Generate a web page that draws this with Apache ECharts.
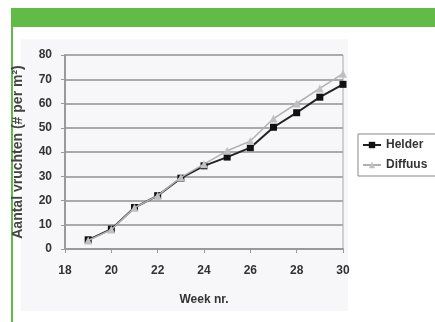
<!DOCTYPE html>
<html><head><meta charset="utf-8">
<script src="https://cdn.jsdelivr.net/npm/echarts@6/dist/echarts.min.js"></script>
<style>html,body{margin:0;padding:0;background:#fff}#c{width:435px;height:322px}</style>
</head><body><div id="c"></div>
<script>
var weeks = [19,20,21,22,23,24,25,26,27,28,29,30];
var helder = [3.8,8.2,17.1,22,29.2,34.3,37.9,41.8,50.2,56.2,62.6,67.9];
var diffuus = [3.5,8,17,22,29.5,35,40.5,44.5,53.8,60,66.2,72.3];
var seriesNames = ['Helder','Diffuus'];
var xTitle = 'Week nr.';
var yTitle = 'Aantal vruchten (# per m²)';

function pairs(xs, ys){ return xs.map(function(x,i){return [x, ys[i]];}); }
var chart = echarts.init(document.getElementById('c'), null, {renderer:'canvas'});
var font = 'Liberation Sans, Arial, sans-serif';
chart.setOption({
  animation:false,
  backgroundColor:'#fff',
  graphic:[
    {type:'rect', shape:{x:21,y:39,width:327,height:272}, style:{fill:'#f7f7f9'}, z:-10},
    {type:'rect', shape:{x:11,y:8,width:424,height:19}, style:{fill:'#62bb46'}},
    {type:'rect', shape:{x:11,y:27,width:2,height:295}, style:{fill:'#62bb46'}}
  ],
  grid:{left:65,right:92,top:55,bottom:73, show:true, borderColor:'#aaa', borderWidth:1, backgroundColor:'transparent'},
  legend:{
    orient:'vertical', left:358, top:134, itemWidth:18, itemHeight:8, itemGap:8,
    borderColor:'#888', borderWidth:1, padding:[5,10,5,4],
    textStyle:{fontFamily:font, fontWeight:'bold', fontSize:12, color:'#333'},
    data:seriesNames
  },
  xAxis:{type:'value', min:18, max:30, interval:2,
    name:xTitle, nameLocation:'middle', nameGap:45,
    nameTextStyle:{fontFamily:font, fontWeight:'bold', fontSize:12, color:'#333'},
    axisLine:{lineStyle:{color:'#999', width:2}}, axisTick:{show:true, length:4, lineStyle:{color:'#999'}},
    axisLabel:{fontFamily:font, fontWeight:'bold', fontSize:12, color:'#333', margin:16},
    splitLine:{show:false}},
  yAxis:{type:'value', min:0, max:80, interval:10,
    name:yTitle, nameLocation:'middle', nameGap:40,
    nameTextStyle:{fontFamily:font, fontWeight:'bold', fontSize:14, color:'#444'},
    axisLine:{show:true, lineStyle:{color:'#999', width:2}}, axisTick:{show:true, length:4, lineStyle:{color:'#999'}},
    axisLabel:{fontFamily:font, fontWeight:'bold', fontSize:12, color:'#333', margin:13},
    splitLine:{show:true, lineStyle:{color:'#aaa', width:2}}},
  series:[
    {name:seriesNames[0], type:'line', data:pairs(weeks, helder), symbol:'rect', symbolSize:7,
      lineStyle:{color:'#222', width:2}, itemStyle:{color:'#111'}, z:2},
    {name:seriesNames[1], type:'line', data:pairs(weeks, diffuus), symbol:'triangle', symbolSize:8,
      lineStyle:{color:'#b0b0b0', width:1.5}, itemStyle:{color:'#c0c0c0'}, z:3}
  ]
});
</script></body></html>
